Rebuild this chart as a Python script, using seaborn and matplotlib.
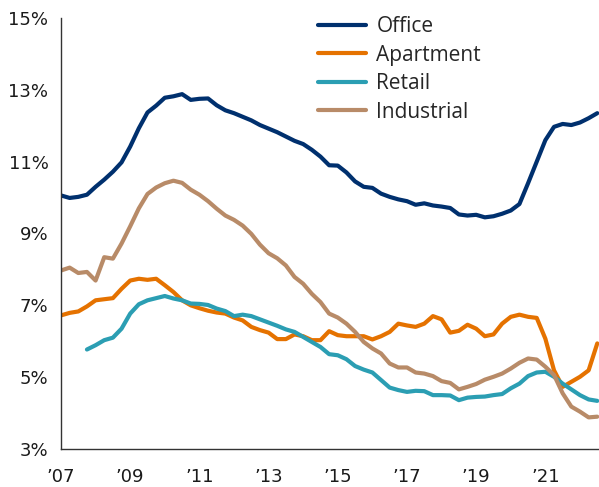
import matplotlib
matplotlib.use("Agg")
import matplotlib.pyplot as plt
import numpy as np
import pandas as pd
import seaborn as sns

# quarterly cap rates, 2007Q1 .. 2022Q3
START_YEAR = 2007
office = [10.06, 9.99, 10.02, 10.08, 10.30, 10.50, 10.72, 10.98, 11.42, 11.93,
          12.37, 12.56, 12.78, 12.82, 12.88, 12.72, 12.75, 12.76, 12.57, 12.43,
          12.35, 12.25, 12.15, 12.02, 11.92, 11.82, 11.70, 11.58, 11.49, 11.33,
          11.14, 10.90, 10.89, 10.70, 10.45, 10.30, 10.27, 10.11, 10.02, 9.95,
          9.90, 9.80, 9.84, 9.78, 9.75, 9.71, 9.53, 9.50, 9.52, 9.45,
          9.48, 9.55, 9.64, 9.82, 10.40, 11.00, 11.60, 11.97, 12.05, 12.02,
          12.09, 12.21, 12.35]
apartment = [6.72, 6.79, 6.83, 6.97, 7.14, 7.17, 7.20, 7.46, 7.69, 7.74,
             7.71, 7.74, 7.56, 7.37, 7.14, 7.00, 6.92, 6.85, 6.80, 6.77,
             6.66, 6.58, 6.40, 6.31, 6.24, 6.06, 6.06, 6.19, 6.14, 6.03,
             6.03, 6.28, 6.17, 6.14, 6.14, 6.14, 6.05, 6.14, 6.26, 6.49,
             6.44, 6.40, 6.49, 6.70, 6.61, 6.24, 6.29, 6.46, 6.35, 6.14,
             6.19, 6.49, 6.68, 6.74, 6.68, 6.65, 6.07, 5.19, 4.73, 4.87,
             5.01, 5.19, 5.94]
retail = [np.nan, np.nan, np.nan, 5.77, 5.89, 6.03, 6.10, 6.35, 6.77, 7.03,
          7.14, 7.20, 7.26, 7.19, 7.14, 7.05, 7.04, 7.01, 6.91, 6.84,
          6.70, 6.74, 6.70, 6.61, 6.52, 6.43, 6.33, 6.26, 6.12, 5.98,
          5.84, 5.64, 5.61, 5.50, 5.31, 5.21, 5.13, 4.92, 4.71, 4.64,
          4.59, 4.62, 4.61, 4.50, 4.50, 4.49, 4.36, 4.43, 4.45, 4.46,
          4.50, 4.53, 4.69, 4.82, 5.03, 5.13, 5.15, 5.01, 4.82, 4.66,
          4.50, 4.38, 4.34]
industrial = [7.97, 8.05, 7.90, 7.93, 7.69, 8.34, 8.30, 8.72, 9.20, 9.70,
              10.10, 10.28, 10.40, 10.47, 10.41, 10.22, 10.08, 9.90, 9.69, 9.50,
              9.38, 9.22, 8.99, 8.69, 8.45, 8.31, 8.11, 7.79, 7.60, 7.32,
              7.09, 6.77, 6.66, 6.49, 6.26, 5.98, 5.80, 5.66, 5.38, 5.27,
              5.27, 5.13, 5.10, 5.03, 4.89, 4.84, 4.66, 4.73, 4.81, 4.93,
              5.01, 5.10, 5.24, 5.40, 5.52, 5.49, 5.29, 5.06, 4.55, 4.18,
              4.04, 3.88, 3.90]

SERIES = ["Office", "Apartment", "Retail", "Industrial"]
COLORS = {"Office": "#00306E", "Apartment": "#E57200",
          "Retail": "#2B9EB3", "Industrial": "#B88B68"}
YTICKS = [3, 5, 7, 9, 11, 13, 15]
XTICKS = [2007, 2009, 2011, 2013, 2015, 2017, 2019, 2021]
XLABELS = ["\u201907", "\u201909", "\u201911", "\u201913", "\u201915", "\u201917", "\u201919", "\u201921"]

t = START_YEAR + np.arange(len(office)) / 4
df = pd.DataFrame({"t": t, "Office": office, "Apartment": apartment,
                   "Retail": retail, "Industrial": industrial})
long = df.melt(id_vars="t", var_name="type", value_name="rate").dropna()

sns.set_style("white")
plt.rcParams["font.family"] = ["DejaVu Sans"]

fig = plt.figure(figsize=(5.99, 4.87), dpi=100)
ax = fig.add_axes([61 / 599, 38 / 487, 538 / 599, 431 / 487])

sns.lineplot(data=long, x="t", y="rate", hue="type", hue_order=SERIES,
             palette=COLORS, linewidth=3, ax=ax, legend=True)

ax.set_xlim(2007, 2022.55)
ax.set_ylim(3, 15)
ax.set_yticks(YTICKS)
ax.set_yticklabels([f"{v}%" for v in YTICKS])
ax.set_xticks(XTICKS)
ax.set_xticklabels(XLABELS)
ax.tick_params(axis="both", length=0, labelsize=13, colors="#1a1a1a")
ax.tick_params(axis="y", pad=9)
ax.tick_params(axis="x", pad=14)
ax.set_xlabel("")
ax.set_ylabel("")
for side in ("top", "right"):
    ax.spines[side].set_visible(False)
for side in ("left", "bottom"):
    ax.spines[side].set_color("#333333")
    ax.spines[side].set_linewidth(1.0)

handles, labels = ax.get_legend_handles_labels()
ax.legend(handles, labels, loc="upper left",
          bbox_to_anchor=(318 / 599, 1 - 16 / 487), bbox_transform=fig.transFigure,
          frameon=False, handlelength=2.3, handletextpad=0.5,
          labelspacing=0.36, borderpad=0, borderaxespad=0,
          prop={"family": "Open Sans", "size": 15})

fig.savefig("out.png", dpi=100)
